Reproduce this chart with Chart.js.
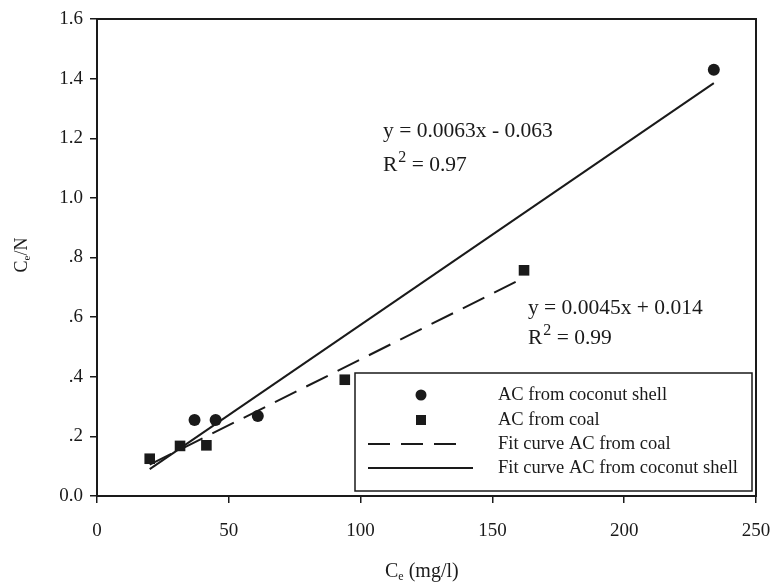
<!DOCTYPE html>
<html>
<head>
<meta charset="utf-8">
<script src="https://cdn.jsdelivr.net/npm/chart.js@4.4.1/dist/chart.umd.min.js"></script>
<style>
  html, body { margin: 0; padding: 0; background: #fff; }
  #wrap { width: 771px; height: 586px; }
</style>
</head>
<body>
<div id="wrap"><canvas id="c" width="771" height="586"></canvas></div>
<script>
// ---- data ----
const coconutX = [37, 45, 61, 234];
const coconutY = [0.255, 0.255, 0.268, 1.43];
const coalX = [20, 31.5, 41.5, 94, 162];
const coalY = [0.125, 0.168, 0.170, 0.390, 0.757];
const fitCoconutX = [20, 234];
const fitCoconutY = [0.09, 1.385];
const fitCoalX = [20, 162];
const fitCoalY = [0.105, 0.732];
const xTicks = [0, 50, 100, 150, 200, 250];
const yTicks = [0, 0.2, 0.4, 0.6, 0.8, 1.0, 1.2, 1.4, 1.6];
const yTickLabels = ['0.0', '.2', '.4', '.6', '.8', '1.0', '1.2', '1.4', '1.6'];
const legendLabels = ['AC from coconut shell', 'AC from coal', 'Fit curve AC from coal', 'Fit curve AC from coconut shell'];
const eqCoconut = ['y = 0.0063x - 0.063', '0.97'];
const eqCoal = ['y = 0.0045x + 0.014', '0.99'];

const ink = '#1a1a1a';
const serif = '"Liberation Serif", "Times New Roman", serif';
const zip = (xs, ys) => xs.map((x, i) => ({ x, y: ys[i] }));

const framePlugin = {
  id: 'frame',
  afterDatasetsDraw(chart) {
    const { ctx, chartArea: a } = chart;
    ctx.save();
    ctx.strokeStyle = ink;
    ctx.lineWidth = 2;
    ctx.strokeRect(a.left, a.top, a.right - a.left, a.bottom - a.top);
    ctx.restore();
  }
};

const textPlugin = {
  id: 'texts',
  afterDraw(chart) {
    const { ctx } = chart;
    const xs = chart.scales.x, ys = chart.scales.y;
    ctx.save();
    ctx.fillStyle = ink;
    ctx.textBaseline = 'alphabetic';
    ctx.textAlign = 'left';

    // equations
    const drawEq = (lines, px, py, gap) => {
      ctx.font = '21.5px ' + serif;
      ctx.fillText(lines[0], px, py);
      ctx.fillText('R', px, py + gap);
      const rw = ctx.measureText('R').width;
      ctx.font = '16px ' + serif;
      ctx.fillText('2', px + rw + 1, py + gap - 9);
      const tw = ctx.measureText('2').width;
      ctx.font = '21.5px ' + serif;
      ctx.fillText(' = ' + lines[1], px + rw + tw + 1, py + gap);
    };
    drawEq(eqCoconut, xs.getPixelForValue(108.5), ys.getPixelForValue(1.205), 34);
    drawEq(eqCoal, xs.getPixelForValue(163.5), ys.getPixelForValue(0.61), 30);

    // x title: C_e (mg/l)
    {
      const by = 577;
      ctx.font = '20px ' + serif;
      const wC = ctx.measureText('C').width;
      let sx = 385;
      ctx.fillText('C', sx, by);
      ctx.font = '12px ' + serif;
      const wE = ctx.measureText('e').width;
      ctx.fillText('e', sx + wC, by + 3);
      ctx.font = '20px ' + serif;
      ctx.fillText(' (mg/l)', sx + wC + wE, by);
    }
    // y title: C_e/N rotated
    {
      ctx.save();
      ctx.translate(27, 255);
      ctx.rotate(-Math.PI / 2);
      ctx.font = '18px ' + serif;
      const wC = ctx.measureText('C').width;
      ctx.font = '11px ' + serif;
      const wE = ctx.measureText('e').width;
      ctx.font = '18px ' + serif;
      const wR = ctx.measureText('/N').width;
      let sx = -(wC + wE + wR) / 2;
      ctx.fillText('C', sx, 0);
      ctx.font = '11px ' + serif;
      ctx.fillText('e', sx + wC, 3);
      ctx.font = '18px ' + serif;
      ctx.fillText('/N', sx + wC + wE, 0);
      ctx.restore();
    }

    // legend box
    const L = 355, T = 373, R = 752, B = 491;
    ctx.fillStyle = '#fff';
    ctx.fillRect(L, T, R - L, B - T);
    ctx.strokeStyle = ink;
    ctx.lineWidth = 1.5;
    ctx.strokeRect(L, T, R - L, B - T);
    ctx.fillStyle = ink;
    const rows = [395, 420, 444, 468];
    ctx.font = '18.5px ' + serif;
    ctx.textBaseline = 'middle';
    legendLabels.forEach((t, i) => ctx.fillText(t, 498, rows[i]));
    // markers
    ctx.beginPath();
    ctx.arc(421, rows[0], 5.5, 0, Math.PI * 2);
    ctx.fill();
    ctx.fillRect(416, rows[1] - 5, 10, 10);
    ctx.lineWidth = 1.8;
    ctx.setLineDash([22, 11]);
    ctx.beginPath();
    ctx.moveTo(368, rows[2]); ctx.lineTo(466, rows[2]);
    ctx.stroke();
    ctx.setLineDash([]);
    ctx.beginPath();
    ctx.moveTo(368, rows[3]); ctx.lineTo(473, rows[3]);
    ctx.stroke();
    ctx.restore();
  }
};

new Chart(document.getElementById('c'), {
  type: 'scatter',
  data: {
    datasets: [
      { label: legendLabels[3], data: zip(fitCoconutX, fitCoconutY), showLine: true, borderColor: ink, borderWidth: 2, pointRadius: 0, fill: false },
      { label: legendLabels[2], data: zip(fitCoalX, fitCoalY), showLine: true, borderColor: ink, borderWidth: 2, borderDash: [24, 11], pointRadius: 0, fill: false },
      { label: legendLabels[0], data: zip(coconutX, coconutY), pointStyle: 'circle', pointRadius: 6, backgroundColor: ink, borderColor: ink, borderWidth: 0 },
      { label: legendLabels[1], data: zip(coalX, coalY), pointStyle: 'rect', pointRadius: 7.5, backgroundColor: ink, borderColor: ink, borderWidth: 0 }
    ]
  },
  options: {
    responsive: false,
    animation: false,
    devicePixelRatio: 1,
    layout: { padding: { left: 0, right: 15, top: 19, bottom: 0 } },
    plugins: { legend: { display: false }, tooltip: { enabled: false } },
    scales: {
      x: {
        type: 'linear', min: 0, max: 250,
        afterFit: s => { s.height = 90; s.paddingLeft = 0; s.paddingRight = 0; },
        afterBuildTicks: s => { s.ticks = xTicks.map(v => ({ value: v })); },
        grid: { display: true, drawOnChartArea: false, drawTicks: true, tickLength: 7, color: ink, lineWidth: 1.5 },
        border: { display: true, color: ink, width: 2 },
        ticks: { color: ink, font: { family: serif, size: 19 }, padding: 17, maxRotation: 0, callback: v => String(v) }
      },
      y: {
        type: 'linear', min: 0, max: 1.6,
        afterFit: s => { s.width = 97; s.paddingTop = 0; s.paddingBottom = 0; },
        afterBuildTicks: s => { s.ticks = yTicks.map(v => ({ value: v })); },
        grid: { display: true, drawOnChartArea: false, drawTicks: true, tickLength: 7, color: ink, lineWidth: 1.5 },
        border: { display: true, color: ink, width: 2 },
        ticks: { color: ink, font: { family: serif, size: 19 }, padding: 7,
          callback: (v) => { const i = yTicks.findIndex(t => Math.abs(t - v) < 1e-9); return i >= 0 ? yTickLabels[i] : ''; } }
      }
    }
  },
  plugins: [framePlugin, textPlugin]
});
</script>
</body>
</html>
